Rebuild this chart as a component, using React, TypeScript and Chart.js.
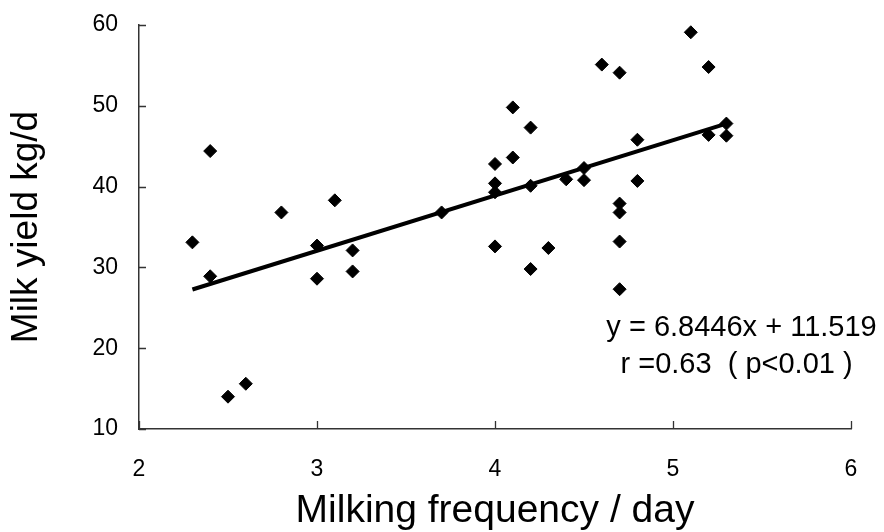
import { useEffect, useRef } from 'react';
import { Chart, registerables } from 'chart.js';

Chart.register(...registerables);

// Data
const frequency = [2.3, 2.4, 2.4, 2.5, 2.6, 2.8, 3.0, 3.0, 3.1, 3.2, 3.2, 3.7, 4.0, 4.0, 4.0, 4.0, 4.1, 4.1, 4.2, 4.2, 4.2, 4.3, 4.4, 4.5, 4.5, 4.6, 4.7, 4.7, 4.7, 4.7, 4.7, 4.8, 4.8, 5.1, 5.2, 5.2, 5.3, 5.3];
const milkYield = [33.1, 44.4, 28.9, 14.0, 15.6, 36.8, 32.7, 28.6, 38.3, 32.1, 29.5, 36.8, 42.8, 40.4, 39.3, 32.6, 49.8, 43.6, 47.3, 40.1, 29.8, 32.4, 40.9, 42.3, 40.8, 55.1, 54.1, 37.9, 36.8, 33.2, 27.3, 45.8, 40.7, 59.1, 54.8, 46.4, 47.8, 46.3];

const trendSlope = 6.8446;
const trendIntercept = 11.519;
const trendRange = [2.3, 5.3];

const xTickValues = [2, 3, 4, 5, 6];
const yTickValues = [10, 20, 30, 40, 50, 60];

const xTitle = 'Milking frequency / day';
const yTitle = 'Milk yield kg/d';
const annotationLines = ['y = 6.8446x + 11.519', 'r =0.63  ( p<0.01 )'];
const annotationX = [5.385, 5.357];
const annotationY = [22.5, 17.9];

const FONT = '"Liberation Sans", Arial, sans-serif';

const innerTicks = {
  id: 'innerTicks',
  afterDraw(chart: any) {
    const { ctx, chartArea } = chart;
    const xs = chart.scales.x;
    const ys = chart.scales.y;
    ctx.save();
    ctx.strokeStyle = '#333';
    ctx.lineWidth = 1.3;
    ctx.beginPath();
    xTickValues.forEach((v) => {
      const px = Math.round(xs.getPixelForValue(v)) + 0.5;
      ctx.moveTo(px, chartArea.bottom);
      ctx.lineTo(px, chartArea.bottom - 8);
    });
    yTickValues.forEach((v) => {
      const py = Math.round(ys.getPixelForValue(v)) + 0.5;
      ctx.moveTo(chartArea.left, py);
      ctx.lineTo(chartArea.left + 7, py);
    });
    ctx.stroke();

    ctx.fillStyle = '#000';
    ctx.textAlign = 'center';
    ctx.textBaseline = 'middle';
    ctx.font = `29px ${FONT}`;
    annotationLines.forEach((t, i) => {
      ctx.fillText(t, xs.getPixelForValue(annotationX[i]), ys.getPixelForValue(annotationY[i]));
    });
    ctx.restore();
  },
};

export default function App() {
  const ref = useRef<HTMLCanvasElement | null>(null);

  useEffect(() => {
    if (!ref.current) return;
    const points = frequency.map((f, i) => ({ x: f, y: milkYield[i] }));
    const trend = trendRange.map((x) => ({ x, y: trendSlope * x + trendIntercept }));
    const chart = new Chart(ref.current, {
      type: 'scatter',
      data: {
        datasets: [
          {
            type: 'line',
            data: trend,
            borderColor: '#000',
            borderWidth: 4,
            pointRadius: 0,
            fill: false,
            order: 2,
          } as any,
          {
            data: points,
            pointStyle: 'rectRot',
            pointRadius: 6.5,
            backgroundColor: '#000',
            borderColor: '#000',
            borderWidth: 1,
            order: 1,
          },
        ],
      },
      options: {
        animation: false,
        responsive: false,
        layout: { padding: { top: 25, right: 33, left: 0, bottom: 0 } },
        plugins: { legend: { display: false }, tooltip: { enabled: false } },
        scales: {
          x: {
            type: 'linear',
            min: 2,
            max: 6,
            afterBuildTicks: (s: any) => {
              s.ticks = xTickValues.map((v) => ({ value: v }));
            },
            afterFit: (s: any) => {
              s.height = 103;
              s.paddingLeft = 0;
              s.paddingRight = 0;
            },
            grid: { display: false, drawTicks: false },
            border: { display: true, color: '#333', width: 1.5 },
            ticks: { padding: 27, color: '#000', font: { family: FONT, size: 23 } },
            title: {
              display: true,
              text: xTitle,
              color: '#000',
              font: { family: FONT, size: 39, lineHeight: 1 },
              padding: { top: 0, bottom: 1 },
            },
          },
          y: {
            type: 'linear',
            min: 10,
            max: 60,
            afterBuildTicks: (s: any) => {
              s.ticks = yTickValues.map((v) => ({ value: v }));
            },
            afterFit: (s: any) => {
              s.width = 139;
              s.paddingTop = 0;
              s.paddingBottom = 0;
            },
            grid: { display: false, drawTicks: false },
            border: { display: true, color: '#333', width: 1.5 },
            ticks: { padding: 21, color: '#000', font: { family: FONT, size: 23 } },
            title: {
              display: true,
              text: yTitle,
              color: '#000',
              font: { family: FONT, size: 37, lineHeight: 1 },
              padding: { top: 8, bottom: 0 },
            },
          },
        },
      },
      plugins: [innerTicks],
    });
    return () => chart.destroy();
  }, []);

  return (
    <div style={{ position: 'absolute', left: 0, top: 0, width: 884, height: 532, background: '#fff' }}>
      <canvas ref={ref} width={884} height={532} />
    </div>
  );
}
